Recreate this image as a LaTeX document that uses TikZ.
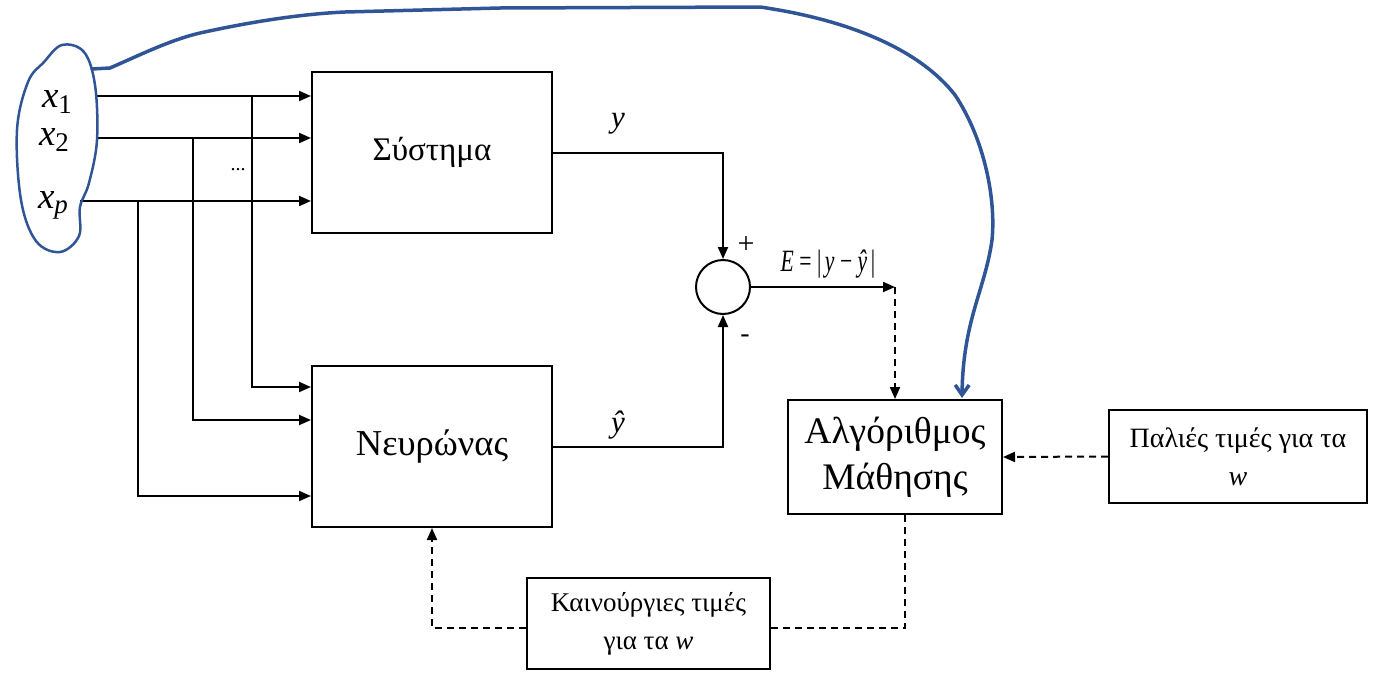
\documentclass[tikz,border=0pt]{standalone}
\usepackage{fontspec}
\setmainfont{Liberation Serif}
\usetikzlibrary{arrows.meta,calc}
\definecolor{penblue}{RGB}{47,85,151}
\begin{document}
\begin{tikzpicture}[x=1pt,y=-1pt,
  blk/.style={draw,line width=2pt,inner sep=0pt,align=center},
  wire/.style={line width=2pt},
  arr/.style={line width=2pt,-{Triangle[length=12pt,width=10pt]}},
  darr/.style={line width=2pt,dash pattern=on 7pt off 5pt,-{Triangle[length=12pt,width=10pt]}},
  dwire/.style={line width=2pt,dash pattern=on 7pt off 5pt},
  lbl/.style={inner sep=0pt,font=\fontsize{31}{31}\selectfont\itshape},
  xl/.style={inner sep=0pt,font=\fontsize{37}{37}\selectfont},
  pen/.style={draw=penblue,line width=3.5pt,line cap=round,line join=round}]
\useasboundingbox (0,0) rectangle (1378,672);
% blocks
\node[blk,minimum width=240pt,minimum height=161pt,font=\fontsize{33}{35}\selectfont] (sys) at (432,152.5) {Σύστημα};
\node[blk,minimum width=240pt,minimum height=161pt,font=\fontsize{36.5}{40}\selectfont] (neu) at (432,446.5) {Νευρώνας};
\node[draw,circle,line width=2pt,minimum size=54pt,inner sep=0pt] (sum) at (723,287) {};
\node[blk,minimum width=214pt,minimum height=114pt,font=\fontsize{37.5}{46}\selectfont] (alg) at (895,457) {Αλγόριθμος\\Μάθησης};
\node[blk,minimum width=258pt,minimum height=93pt,font=\fontsize{28}{38}\selectfont] (old) at (1238,456.5) {Παλιές τιμές για τα\\\textit{w}};
\node[blk,minimum width=243pt,minimum height=91pt,font=\fontsize{27}{38}\selectfont] (new) at (648.5,623.5) {Καινούργιες τιμές\\για τα \textit{w}};
% input labels
\node[xl] (lx1) at (57,102) {\textit{x}\raisebox{-0.3ex}{\fontsize{27}{27}\selectfont 1}};
\node[xl] (lx2) at (54,140) {\textit{x}\raisebox{-0.3ex}{\fontsize{27}{27}\selectfont 2}};
\node[xl] (lxp) at (53,205) {\textit{x}\raisebox{-0.3ex}{\fontsize{27}{27}\selectfont\itshape p}};
\node[inner sep=0pt,font=\fontsize{20}{20}\selectfont] (dots) at (238,170) {...};
% input coordinates
\coordinate (s1) at (96,96);
\coordinate (s2) at (96,138);
\coordinate (sp) at (80,201);
\coordinate (b1) at (252,96);
\coordinate (b2) at (193,138);
\coordinate (bp) at (138,201);
\coordinate (n1) at (252,387);
\coordinate (n2) at (193,420);
\coordinate (np) at (138,496);
\draw[arr] (s1) -- (sys.west |- s1);
\draw[arr] (s2) -- (sys.west |- s2);
\draw[arr] (sp) -- (sys.west |- sp);
\draw[arr] (b1) -- (n1) -- (neu.west |- n1);
\draw[arr] (b2) -- (n2) -- (neu.west |- n2);
\draw[arr] (bp) -- (np) -- (neu.west |- np);
% outputs
\draw[arr] (sys.east) -| (sum.north);
\draw[arr] (neu.east) -| (sum.south);
\node[lbl] (ly) at (618,124) {y};
\node[lbl] (lyh) at (618,425) {ŷ};
\node[inner sep=0pt,font=\fontsize{30}{30}\selectfont] (plus) at (746,245) {+};
\node[inner sep=0pt,font=\fontsize{28}{28}\selectfont] (minus) at (745,339) {-};
\coordinate (eend) at (895,287);
\draw[arr] (sum.east) -- (eend);
\node[inner sep=0pt,font=\fontsize{31}{31}\selectfont] (elbl) at (828,264) {\scalebox{0.7}[1]{\textit{E} = \textbar\,\textit{y} − \textit{ŷ}\,\textbar}};
\draw[darr] (eend) -- (alg.north);
\draw[darr] (old.west) -- (alg.east);
\coordinate (c1) at (905,628);
\coordinate (c2) at (432,628);
\draw[dwire] (alg.south -| c1) -- (c1) -- (new.east |- c1);
\draw[darr] (new.west |- c2) -- (c2) -- (neu.south -| c2);
% blue pen strokes
\draw[pen,line width=2.5pt] plot[smooth cycle,tension=0.6] coordinates {(62,45) (84,52) (95,85) (97,140) (89,183) (80,207) (79,236) (60,252) (36,241) (21,200) (17,130) (28,82) (44,62)};
\draw[pen,-{Straight Barb[length=10pt,width=14pt]}] (92,69) -- (110,68) .. controls (140,55) and (170,40) .. (200,33)
  .. controls (250,22) and (300,14) .. (345,12) -- (500,8) -- (760,7)
  .. controls (850,20) and (920,50) .. (955,95)
  .. controls (985,140) and (996,200) .. (992,240)
  .. controls (985,290) and (963,320) .. (962,398);
\end{tikzpicture}
\end{document}
